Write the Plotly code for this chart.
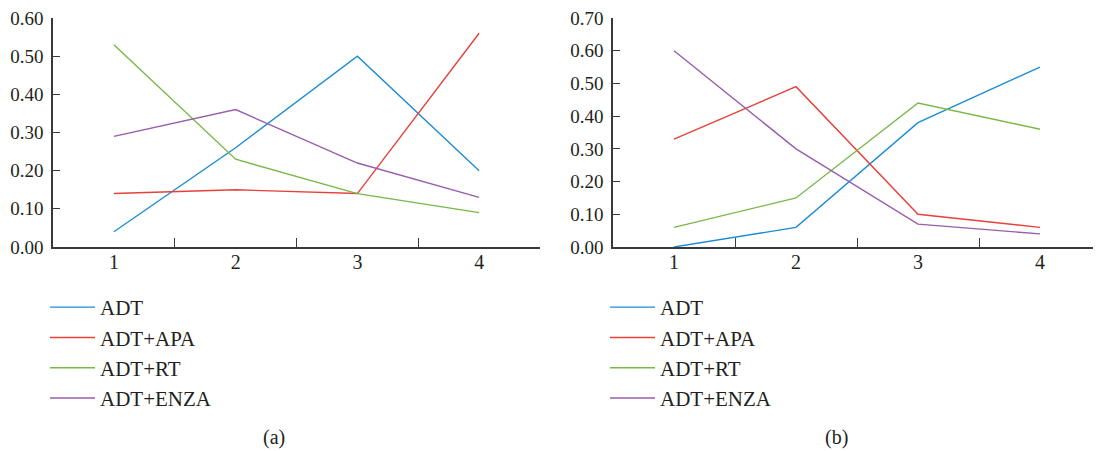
import plotly.graph_objects as go

categories = [1, 2, 3, 4]
series_names = ["ADT", "ADT+APA", "ADT+RT", "ADT+ENZA"]
colors = ["#1b8cd4", "#e8403b", "#78b847", "#995cad"]

# Panel (a)
a_adt = [0.04, 0.26, 0.50, 0.20]
a_apa = [0.14, 0.15, 0.14, 0.56]
a_rt = [0.53, 0.23, 0.14, 0.09]
a_enza = [0.29, 0.36, 0.22, 0.13]

# Panel (b)
b_adt = [0.00, 0.06, 0.38, 0.55]
b_apa = [0.33, 0.49, 0.10, 0.06]
b_rt = [0.06, 0.15, 0.44, 0.36]
b_enza = [0.60, 0.30, 0.07, 0.04]

panel_a = [a_adt, a_apa, a_rt, a_enza]
panel_b = [b_adt, b_apa, b_rt, b_enza]

FONT = "Liberation Serif"
TXT = "#231f20"
AX = "#3a3a3a"

# page body has an 8px margin; figure is sized to fill the remaining window
OFF = 8
W, H = 1101 - OFF, 451 - OFF


def px(x):
    return (x - OFF) / W


def py(y):
    return 1 - (y - OFF) / H


fig = go.Figure()
for name, vals, col in zip(series_names, panel_a, colors):
    fig.add_trace(go.Scatter(x=categories, y=vals, mode="lines", name=name,
                             line=dict(color=col, width=1.4),
                             xaxis="x", yaxis="y", legend="legend"))
for name, vals, col in zip(series_names, panel_b, colors):
    fig.add_trace(go.Scatter(x=categories, y=vals, mode="lines", name=name,
                             line=dict(color=col, width=1.4),
                             xaxis="x2", yaxis="y2", legend="legend2"))

ydom = [py(247), py(18)]


def xaxis(domain, anchor):
    return dict(domain=domain, anchor=anchor, range=[0.5, 4.5], automargin=False,
                tickvals=categories, ticktext=[str(c) for c in categories],
                ticks="", ticklen=0, showgrid=False, zeroline=False,
                ticklabeloverflow="allow", ticklabelstandoff=-4,
                showline=True, linecolor=AX, linewidth=1.6,
                tickfont=dict(family=FONT, size=20, color=TXT),
                minor=dict(tickvals=[1.5, 2.5, 3.5], ticks="inside",
                           ticklen=9, tickcolor=AX, tickwidth=1.4, showgrid=False))


def yaxis(domain, anchor, top):
    return dict(domain=domain, anchor=anchor, range=[0, top], dtick=0.1,
                automargin=False, ticklabelstandoff=4, ticklabeloverflow="allow",
                tickformat=".2f", ticks="inside", ticklen=7, tickcolor=AX,
                tickwidth=1.4, showgrid=False, zeroline=False,
                showline=True, linecolor=AX, linewidth=1.6,
                tickfont=dict(family=FONT, size=19, color=TXT))


leg_common = dict(font=dict(family=FONT, size=21, color=TXT),
                  bgcolor="rgba(0,0,0,0)", borderwidth=0, itemwidth=45,
                  xanchor="left", yanchor="top", traceorder="normal")

fig.update_layout(
    width=W, height=H,
    margin=dict(l=0, r=0, t=0, b=0, autoexpand=False),
    paper_bgcolor="white", plot_bgcolor="white",
    showlegend=True,
    xaxis=xaxis([px(53), px(540)], "y"),
    yaxis=yaxis(ydom, "x", 0.6),
    xaxis2=xaxis([px(613), 1.0], "y2"),
    yaxis2=yaxis(ydom, "x2", 0.7),
    legend=dict(x=px(45), y=py(287), **leg_common),
    legend2=dict(x=px(605), y=py(287), **leg_common),
    annotations=[
        dict(text="(a)", x=px(274), y=py(437), xref="paper", yref="paper",
             xanchor="center", yanchor="middle",
             showarrow=False, font=dict(family=FONT, size=20, color=TXT)),
        dict(text="(b)", x=px(836), y=py(437), xref="paper", yref="paper",
             xanchor="center", yanchor="middle",
             showarrow=False, font=dict(family=FONT, size=20, color=TXT)),
    ],
)

fig.write_html("out.html")
